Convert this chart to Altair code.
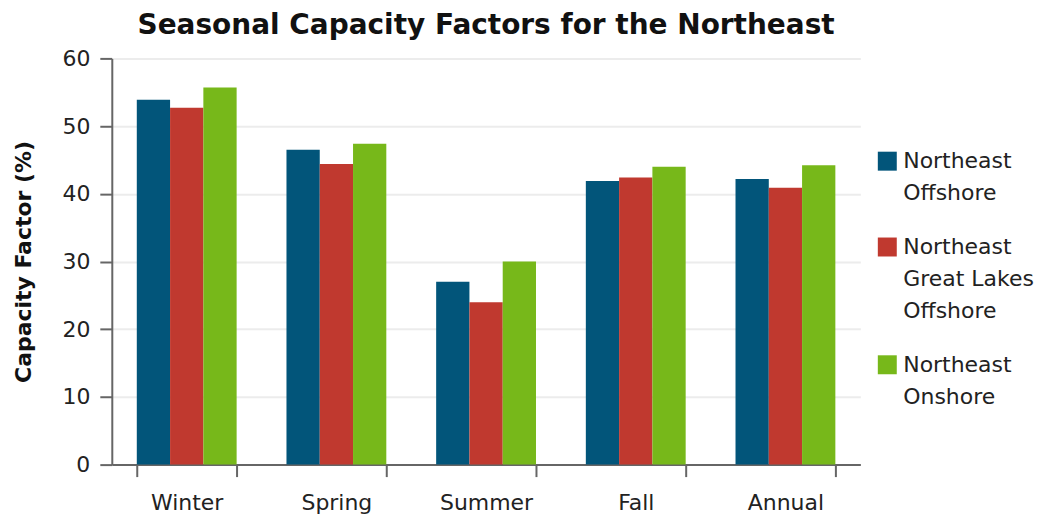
import altair as alt
import pandas as pd

seasons = ["Winter", "Spring", "Summer", "Fall", "Annual"]
series = ["Northeast Offshore", "Northeast Great Lakes Offshore", "Northeast Onshore"]
legend_lines = [["Northeast", "Offshore"], ["Northeast", "Great Lakes", "Offshore"], ["Northeast", "Onshore"]]
colors = ["#02557a", "#c0392f", "#77b81a"]

ne_offshore = [53.9, 46.5, 27.0, 41.9, 42.2]
ne_great_lakes = [52.7, 44.4, 24.0, 42.4, 40.9]
ne_onshore = [55.7, 47.4, 30.0, 44.0, 44.2]

rows = []
for vals, s in zip([ne_offshore, ne_great_lakes, ne_onshore], series):
    for season, v in zip(seasons, vals):
        rows.append({"Season": season, "Series": s, "Value": v})
df = pd.DataFrame(rows)

label_expr = " : ".join(
    f"datum.label == '{s}' ? {lines!r}" for s, lines in zip(series, legend_lines)
) + " : datum.label"

FONT = "DejaVu Sans"

chart = alt.Chart(df).mark_bar().encode(
    x=alt.X("Season:N", sort=seasons, title=None,
            scale=alt.Scale(paddingInner=0.333, paddingOuter=0.167),
            axis=alt.Axis(labelAngle=0, tickBand="extent", tickSize=12, labelPadding=16,
                          labelFontSize=22, labelColor="#222", domainColor="#666",
                          tickColor="#666", domainWidth=2, tickWidth=2, grid=False)),
    xOffset=alt.XOffset("Series:N", sort=series),
    y=alt.Y("Value:Q", title="Capacity Factor (%)",
            scale=alt.Scale(domain=[0, 60]),
            axis=alt.Axis(values=[0, 10, 20, 30, 40, 50, 60], tickSize=12, labelPadding=10,
                          labelFontSize=22, labelColor="#222", domain=True, domainColor="#666",
                          domainWidth=2, tickColor="#666", tickWidth=2,
                          gridColor="#ececec", gridWidth=2,
                          titleFontSize=22, titleFontWeight="bold", titleColor="#111",
                          titlePadding=26)),
    color=alt.Color("Series:N", sort=series,
                    scale=alt.Scale(domain=series, range=colors),
                    legend=alt.Legend(title=None, orient="none", legendX=766, legendY=82,
                                      symbolType="M-1,0.05H1V2.05H-1Z", symbolSize=361,
                                      symbolStrokeWidth=0, labelFontSize=22, labelColor="#222",
                                      labelExpr=label_expr, labelBaseline="top",
                                      labelOffset=5, rowPadding=22, labelLimit=300)),
).properties(
    width=750, height=407,
    title=alt.TitleParams("Seasonal Capacity Factors for the Northeast",
                          fontSize=28, fontWeight="bold", color="#111", anchor="middle",
                          offset=7),
    padding={"left": 5, "top": 4, "right": 5, "bottom": 5},
).configure(
    font=FONT,
    style={"guide-label": {"lineHeight": 32}},
).configure_view(stroke=None)

chart.save("out.html", embed_options={"renderer": "svg", "actions": False})
